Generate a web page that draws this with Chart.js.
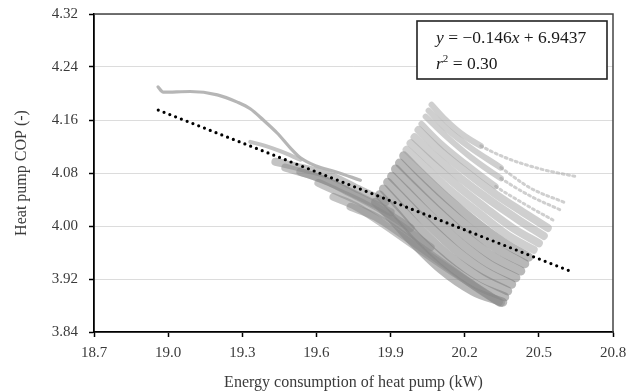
<!DOCTYPE html>
<html><head><meta charset="utf-8">
<script src="https://cdn.jsdelivr.net/npm/chart.js@4.4.0/dist/chart.umd.min.js"></script>
<style>html,body{margin:0;padding:0;background:#fff;}#wrap{width:640px;height:392px;}</style>
</head><body><div id="wrap"><canvas id="c" width="640" height="392"></canvas></div>
<script>
// ---- data ----
const xTicks = [18.7, 19.0, 19.3, 19.6, 19.9, 20.2, 20.5, 20.8];
const yTicks = [3.84, 3.92, 4.00, 4.08, 4.16, 4.24, 4.32];
const xTitle = 'Energy consumption of heat pump (kW)';
const yTitle = 'Heat pump COP (-)';
const eqLine1 = [['y', true], [' = −0.146', false], ['x', true], [' + 6.9437', false]];
const eqLine2 = [['r', true], ['2', false, 'sup'], [' = 0.30', false]];

// long early curve (upper left)
const longCurve = [[18.959,4.210],[18.980,4.202],[19.089,4.203],[19.199,4.198],[19.280,4.187],[19.332,4.177],[19.385,4.160],[19.442,4.140],[19.494,4.118],[19.535,4.103],[19.596,4.091],[19.677,4.082],[19.778,4.069]];

// bundle of curves entering from the left
const leftBundle = [
  [[19.332,4.127],[19.393,4.121],[19.454,4.113],[19.535,4.100]],
  [[19.434,4.097],[19.535,4.088],[19.657,4.076],[19.778,4.054],[19.880,4.036]],
  [[19.474,4.088],[19.576,4.077],[19.677,4.062],[19.778,4.044],[19.900,4.021]],
  [[19.535,4.082],[19.636,4.069],[19.738,4.050],[19.839,4.030],[19.981,3.997]],
  [[19.608,4.065],[19.697,4.050],[19.799,4.032],[19.920,4.006],[20.062,3.968]],
  [[19.669,4.044],[19.758,4.030],[19.859,4.006],[20.021,3.964],[20.184,3.923],[20.346,3.884]],
  [[19.738,4.029],[19.839,4.014],[19.940,3.989],[20.103,3.946],[20.244,3.908],[20.338,3.885]]
];

// main fan of curves (top to bottom)
const fanCurves = [
  [[20.066,4.183],[20.123,4.160],[20.184,4.140],[20.265,4.121],[20.366,4.103],[20.508,4.086],[20.658,4.074]],
  [[20.054,4.174],[20.123,4.148],[20.224,4.118],[20.346,4.088],[20.467,4.057],[20.601,4.036]],
  [[20.042,4.165],[20.123,4.136],[20.224,4.104],[20.346,4.072],[20.467,4.045],[20.589,4.024]],
  [[20.025,4.154],[20.103,4.125],[20.204,4.094],[20.325,4.060],[20.447,4.032],[20.557,4.009]],
  [[20.013,4.145],[20.103,4.113],[20.204,4.082],[20.325,4.048],[20.435,4.021],[20.536,3.997]],
  [[19.997,4.134],[20.082,4.104],[20.184,4.072],[20.305,4.038],[20.419,4.009],[20.520,3.985]],
  [[19.981,4.125],[20.062,4.097],[20.163,4.063],[20.285,4.027],[20.394,3.997],[20.500,3.974]],
  [[19.965,4.115],[20.042,4.088],[20.143,4.053],[20.265,4.017],[20.374,3.986],[20.479,3.964]],
  [[19.953,4.106],[20.021,4.080],[20.123,4.044],[20.244,4.006],[20.354,3.976],[20.459,3.953]],
  [[19.936,4.095],[20.001,4.071],[20.103,4.035],[20.224,3.995],[20.338,3.964],[20.443,3.943]],
  [[19.920,4.086],[19.981,4.063],[20.082,4.026],[20.204,3.985],[20.317,3.953],[20.427,3.932]],
  [[19.904,4.075],[19.961,4.054],[20.062,4.015],[20.184,3.974],[20.297,3.943],[20.407,3.922]],
  [[19.888,4.066],[19.940,4.045],[20.042,4.006],[20.163,3.964],[20.281,3.932],[20.390,3.912]],
  [[19.871,4.056],[19.920,4.036],[20.021,3.995],[20.143,3.953],[20.265,3.922],[20.374,3.902]],
  [[19.855,4.047],[19.900,4.029],[20.001,3.986],[20.123,3.944],[20.248,3.911],[20.362,3.893]],
  [[19.839,4.036],[19.880,4.021],[19.981,3.979],[20.103,3.935],[20.232,3.902],[20.354,3.885]]
];
// x from which the top fan curves become sparse dotted tails
const dottedFrom = [20.265, 20.346, 20.346, 20.325];

// linear trend line endpoints (y = -0.146x + 6.9437)
const trendLine = [[18.96,4.175],[20.64,3.930]];

// ---- build chart ----
const SERIF = "'Liberation Serif','Times New Roman',serif";
Chart.defaults.font.family = SERIF;
Chart.defaults.color = '#3a3a3a';

function toXY(arr){ return arr.map(p => ({x:p[0], y:p[1]})); }
function curve(arr, color, width, extra){
  return Object.assign({data: toXY(arr), showLine:true, borderColor:color, borderWidth:width,
    pointRadius:0, pointHoverRadius:0, cubicInterpolationMode:'monotone', order:1,
    borderCapStyle:'round', borderJoinStyle:'round'}, extra || {});
}

const datasets = [];
datasets.push({data: toXY(trendLine), showLine:true, borderColor:'#000', borderWidth:3.2,
  borderDash:[0,6.2], borderCapStyle:'round', pointRadius:0, tension:0, order:0});
datasets.push(curve(longCurve, 'rgba(178,178,178,0.95)', 3.2));
leftBundle.forEach((c,i) => datasets.push(curve(c, i < 1 ? 'rgba(190,190,190,0.9)' : 'rgba(135,135,135,0.5)', i < 1 ? 4 : 8)));
fanCurves.forEach((c,i) => {
  const extra = {};
  if (i < dottedFrom.length) {
    const from = dottedFrom[i];
    extra.segment = {
      borderDash: ctx => ctx.p0.parsed.x >= from ? [2,3.4] : undefined,
      borderWidth: ctx => ctx.p0.parsed.x >= from ? 3 : undefined
    };
  }
  const col = i < 8 ? 'rgba(160,160,160,0.5)' : 'rgba(125,125,125,0.55)';
  datasets.push(curve(c, col, i < 4 ? 6 : (i < 8 ? 8 : 9), extra));
});

function drawRuns(ctx, runs, x, y, size){
  let cx = x;
  runs.forEach(r => {
    const sup = r[2] === 'sup';
    const fs = sup ? Math.round(size*0.65) : size;
    ctx.font = (r[1] ? 'italic ' : '') + fs + 'px ' + SERIF;
    ctx.fillText(r[0], cx, sup ? y - size*0.4 : y);
    cx += ctx.measureText(r[0]).width;
  });
}

const framePlugin = {
  id:'frame',
  afterDraw(chart){
    const {ctx, chartArea:a} = chart;
    ctx.save();
    ctx.strokeStyle = '#444'; ctx.lineWidth = 1.5;
    ctx.beginPath();
    ctx.moveTo(a.left, a.top); ctx.lineTo(a.right, a.top); ctx.lineTo(a.right, a.bottom);
    ctx.stroke();
    // equation box
    ctx.fillStyle = '#fff';
    ctx.fillRect(417, 21, 190, 58);
    ctx.strokeStyle = '#222'; ctx.lineWidth = 1.6;
    ctx.strokeRect(417, 21, 190, 58);
    ctx.fillStyle = '#1a1a1a';
    ctx.textBaseline = 'alphabetic'; ctx.textAlign = 'left';
    drawRuns(ctx, eqLine1, 436, 43, 17.5);
    drawRuns(ctx, eqLine2, 436, 69, 17.5);
    ctx.restore();
  }
};

new Chart(document.getElementById('c'), {
  type:'scatter',
  data:{datasets},
  plugins:[framePlugin],
  options:{
    responsive:false, animation:false, devicePixelRatio:1,
    layout:{padding:{left:0, right:27, top:14, bottom:0}},
    plugins:{legend:{display:false}, tooltip:{enabled:false}},
    scales:{
      x:{type:'linear', min:18.7, max:20.8,
        afterBuildTicks: s => { s.ticks = xTicks.map(v => ({value:v})); },
        afterFit: s => { s.height = 60; s.paddingLeft = 0; s.paddingRight = 0; },
        ticks:{callback: v => v.toFixed(1), font:{size:15}, padding:7, maxRotation:0, autoSkip:false},
        grid:{drawOnChartArea:false, drawTicks:true, tickLength:5, tickColor:'#000', tickWidth:1.5},
        border:{display:true, color:'#000', width:1.8},
        title:{display:true, text:xTitle, font:{size:16}, padding:{top:0, bottom:0}}
      },
      y:{type:'linear', min:3.84, max:4.32,
        afterBuildTicks: s => { s.ticks = yTicks.map(v => ({value:v})); },
        afterFit: s => { s.width = 94; s.paddingTop = 0; s.paddingBottom = 0; },
        ticks:{callback: v => v.toFixed(2), font:{size:15}, padding:11, autoSkip:false},
        grid:{color:'#dcdcdc', lineWidth:1, drawTicks:true, tickLength:5, tickColor:'#000', tickWidth:1.5},
        border:{display:true, color:'#000', width:1.8},
        title:{display:true, text:yTitle, font:{size:16}, padding:{top:12, bottom:0}}
      }
    }
  }
});
</script>
</body></html>
